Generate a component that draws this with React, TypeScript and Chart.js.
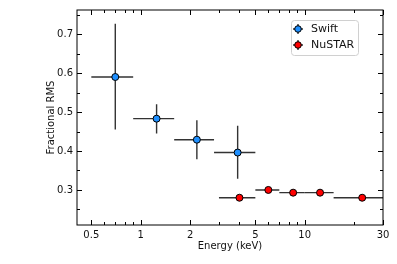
import React, { useEffect, useRef } from "react";
import { Chart, registerables } from "chart.js";

Chart.register(...registerables);

// ---- Data ----
const swiftEnergy = [0.7, 1.25, 2.2, 3.9];
const swiftEnergyLo = [0.5, 0.9, 1.6, 2.8];
const swiftEnergyHi = [0.9, 1.6, 2.8, 5.0];
const swiftRms = [0.59, 0.483, 0.429, 0.396];
const swiftRmsErrLo = [0.135, 0.038, 0.05, 0.067];
const swiftRmsErrHi = [0.137, 0.037, 0.05, 0.069];

const nustarEnergy = [4.0, 6.0, 8.5, 12.4, 22.4];
const nustarEnergyLo = [3.0, 5.0, 7.0, 10.0, 15.0];
const nustarEnergyHi = [5.0, 7.0, 10.0, 15.0, 30.0];
const nustarRms = [0.28, 0.3, 0.293, 0.293, 0.28];
const nustarRmsErr = [0.003, 0.003, 0.003, 0.003, 0.003];

const xTickLabels = [0.5, 1, 2, 5, 10, 30];
const xMinorTicks = [0.6, 0.7, 0.8, 0.9, 3, 4, 6, 7, 8, 9, 20];
const yMajorTicks = [0.3, 0.4, 0.5, 0.6, 0.7];
const yMinorTicks = [0.25, 0.35, 0.45, 0.55, 0.65, 0.75];

const seriesNames = ["Swift", "NuSTAR"];
const seriesColors = ["#1e8fff", "#ff0000"];

const FONT = "'DejaVu Sans', sans-serif";

const errorBars = [
  { x: swiftEnergy, xlo: swiftEnergyLo, xhi: swiftEnergyHi, y: swiftRms, ylo: swiftRmsErrLo, yhi: swiftRmsErrHi },
  { x: nustarEnergy, xlo: nustarEnergyLo, xhi: nustarEnergyHi, y: nustarRms, ylo: nustarRmsErr, yhi: nustarRmsErr },
];

const decorPlugin = {
  id: "decor",
  beforeDatasetsDraw(chart: any) {
    const { ctx, chartArea, scales } = chart;
    const xs = scales.x;
    const ys = scales.y;
    ctx.save();
    ctx.beginPath();
    ctx.rect(chartArea.left, chartArea.top, chartArea.right - chartArea.left, chartArea.bottom - chartArea.top);
    ctx.clip();
    ctx.strokeStyle = "#333333";
    ctx.lineWidth = 1.4;
    errorBars.forEach((s) => {
      s.x.forEach((xv, i) => {
        const px = xs.getPixelForValue(xv);
        const py = ys.getPixelForValue(s.y[i]);
        ctx.beginPath();
        ctx.moveTo(xs.getPixelForValue(s.xlo[i]), py);
        ctx.lineTo(xs.getPixelForValue(s.xhi[i]), py);
        ctx.moveTo(px, ys.getPixelForValue(s.y[i] - s.ylo[i]));
        ctx.lineTo(px, ys.getPixelForValue(s.y[i] + s.yhi[i]));
        ctx.stroke();
      });
    });
    ctx.restore();
  },
  afterDraw(chart: any) {
    const { ctx, chartArea, scales } = chart;
    const { left, right, top, bottom } = chartArea;
    const xs = scales.x;
    const ys = scales.y;
    ctx.save();
    ctx.strokeStyle = "#000";
    ctx.lineWidth = 1;
    // frame
    ctx.strokeRect(left, top, right - left, bottom - top);
    // ticks
    const major = 5;
    const minor = 3;
    ctx.beginPath();
    const xt = (v: number, len: number) => {
      const p = Math.round(xs.getPixelForValue(v)) + 0.5;
      ctx.moveTo(p, bottom);
      ctx.lineTo(p, bottom - len);
      ctx.moveTo(p, top);
      ctx.lineTo(p, top + len);
    };
    const yt = (v: number, len: number) => {
      const p = Math.round(ys.getPixelForValue(v)) + 0.5;
      ctx.moveTo(left, p);
      ctx.lineTo(left + len, p);
      ctx.moveTo(right, p);
      ctx.lineTo(right - len, p);
    };
    xTickLabels.forEach((v) => xt(v, major));
    xMinorTicks.forEach((v) => xt(v, minor));
    yMajorTicks.forEach((v) => yt(v, major));
    yMinorTicks.forEach((v) => yt(v, minor));
    ctx.stroke();

    // axis titles
    ctx.fillStyle = "#111";
    ctx.font = `10px ${FONT}`;
    ctx.textAlign = "center";
    ctx.textBaseline = "middle";
    ctx.fillText("Energy (keV)", (left + right) / 2, 246);
    ctx.save();
    ctx.translate(51, (top + bottom) / 2);
    ctx.rotate(-Math.PI / 2);
    ctx.fillText("Fractional RMS", 0, 0);
    ctx.restore();

    // legend
    const lx = 291.5, ly = 20.5, lw = 67, lh = 35, r = 3;
    ctx.beginPath();
    ctx.moveTo(lx + r, ly);
    ctx.lineTo(lx + lw - r, ly);
    ctx.arcTo(lx + lw, ly, lx + lw, ly + r, r);
    ctx.lineTo(lx + lw, ly + lh - r);
    ctx.arcTo(lx + lw, ly + lh, lx + lw - r, ly + lh, r);
    ctx.lineTo(lx + r, ly + lh);
    ctx.arcTo(lx, ly + lh, lx, ly + lh - r, r);
    ctx.lineTo(lx, ly + r);
    ctx.arcTo(lx, ly, lx + r, ly, r);
    ctx.closePath();
    ctx.fillStyle = "rgba(255,255,255,0.85)";
    ctx.fill();
    ctx.strokeStyle = "#d0d0d0";
    ctx.stroke();
    seriesNames.forEach((name, i) => {
      const cy = 29 + i * 16;
      const cx = 298;
      ctx.strokeStyle = "#333";
      ctx.lineWidth = 1.4;
      ctx.beginPath();
      ctx.moveTo(cx - 5, cy);
      ctx.lineTo(cx + 5, cy);
      ctx.moveTo(cx, cy - 5);
      ctx.lineTo(cx, cy + 5);
      ctx.stroke();
      ctx.beginPath();
      ctx.arc(cx, cy, 3.3, 0, Math.PI * 2);
      ctx.fillStyle = seriesColors[i];
      ctx.fill();
      ctx.lineWidth = 1;
      ctx.strokeStyle = "#000";
      ctx.stroke();
      ctx.fillStyle = "#111";
      ctx.font = `11px ${FONT}`;
      ctx.textAlign = "left";
      ctx.textBaseline = "middle";
      ctx.fillText(name, 311, cy + 0.5);
    });
    ctx.restore();
  },
};

export default function App() {
  const canvasRef = useRef<HTMLCanvasElement | null>(null);

  useEffect(() => {
    document.body.style.margin = "0";
    const canvas = canvasRef.current;
    if (!canvas) return;
    const chart = new Chart(canvas, {
      type: "scatter",
      data: {
        datasets: [
          {
            label: seriesNames[0],
            data: swiftEnergy.map((x, i) => ({ x, y: swiftRms[i] })),
            backgroundColor: seriesColors[0],
            borderColor: "#000",
            borderWidth: 1,
            pointRadius: 3.5,
          },
          {
            label: seriesNames[1],
            data: nustarEnergy.map((x, i) => ({ x, y: nustarRms[i] })),
            backgroundColor: seriesColors[1],
            borderColor: "#000",
            borderWidth: 1,
            pointRadius: 3.5,
          },
        ],
      },
      options: {
        responsive: false,
        animation: false,
        events: [],
        layout: { padding: { top: 8, right: 14, left: 0, bottom: 0 } },
        plugins: { legend: { display: false }, tooltip: { enabled: false } },
        scales: {
          x: {
            type: "logarithmic",
            min: 0.409,
            max: 30,
            grid: { display: false, drawTicks: false },
            border: { display: false },
            afterBuildTicks: (scale: any) => {
              scale.ticks = xTickLabels.map((v) => ({ value: v }));
            },
            afterFit: (scale: any) => {
              scale.height = 39;
            },
            ticks: {
              autoSkip: false,
              maxRotation: 0,
              padding: 4,
              color: "#111",
              font: { family: FONT, size: 10 },
              callback: (v: any) => String(v),
            },
          },
          y: {
            type: "linear",
            min: 0.21,
            max: 0.762,
            grid: { display: false, drawTicks: false },
            border: { display: false },
            afterBuildTicks: (scale: any) => {
              scale.ticks = yMajorTicks.map((v) => ({ value: v }));
            },
            afterFit: (scale: any) => {
              scale.width = 77;
            },
            ticks: {
              padding: 4,
              color: "#111",
              font: { family: FONT, size: 10 },
              callback: (v: any) => Number(v).toFixed(1),
            },
          },
        },
      },
      plugins: [decorPlugin],
    });
    return () => chart.destroy();
  }, []);

  return <canvas ref={canvasRef} width={397} height={264} style={{ display: "block" }} />;
}
